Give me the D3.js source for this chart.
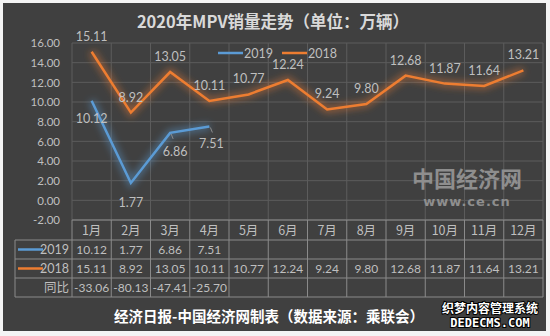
<!DOCTYPE html>
<html><head><meta charset="utf-8">
<script src="https://cdn.jsdelivr.net/npm/d3@7"></script>
<style>
html,body{margin:0;padding:0;background:#fff;}
svg{display:block;}
</style></head>
<body>
<svg id="c" width="550" height="336"></svg>
<script>
const months = ['1月','2月','3月','4月','5月','6月','7月','8月','9月','10月','11月','12月'];
const v2019 = [10.12, 1.77, 6.86, 7.51];
const v2018 = [15.11, 8.92, 13.05, 10.11, 10.77, 12.24, 9.24, 9.80, 12.68, 11.87, 11.64, 13.21];
const yoy = [-33.06, -80.13, -47.41, -25.70];
const yTicks = [-2, 0, 2, 4, 6, 8, 10, 12, 14, 16];
const seriesNames = ['2019', '2018'];
const yoyName = '同比';
const titleText = '2020年MPV销量走势（单位：万辆）';
const footerText = '经济日报-中国经济网制表（数据来源：乘联会）';

const BLUE = '#5b9bd5', ORANGE = '#ed7d31';
const svg = d3.select('#c');
const NUMF = "Lato, 'Noto Sans', sans-serif";
const CJK = "'Noto Sans CJK SC', sans-serif";

// outer background
svg.append('rect').attr('x',0).attr('y',0).attr('width',550).attr('height',336).attr('fill','#f4f4f4');
svg.append('rect').attr('x',3).attr('y',3).attr('width',543).attr('height',328).attr('fill','#404040');

const defs = svg.append('defs');
const f = defs.append('filter').attr('id','glow').attr('x','-20%').attr('y','-20%').attr('width','140%').attr('height','140%');
f.append('feGaussianBlur').attr('stdDeviation',3.5);

const x = d3.scaleBand().domain(months).range([72, 543]);
const y = d3.scaleLinear().domain([-2, 16]).range([220, 43]);
const cx = m => x(m) + x.bandwidth()/2;

// gridlines
const grid = svg.append('g');
yTicks.forEach(t => {
  grid.append('line').attr('x1',72).attr('x2',543).attr('y1',y(t)).attr('y2',y(t))
    .attr('stroke', '#5c5c5c').attr('stroke-width',1);
});
months.forEach((m,i) => {
  grid.append('line').attr('x1',x(m)).attr('x2',x(m)).attr('y1',y(16)).attr('y2',y(-2))
    .attr('stroke','#5c5c5c');
});
grid.append('line').attr('x1',543).attr('x2',543).attr('y1',y(16)).attr('y2',y(-2)).attr('stroke','#5c5c5c');

// y axis
const ax = svg.append('g').attr('transform','translate(66,0)')
  .call(d3.axisLeft(y).tickValues(yTicks).tickFormat(d => d.toFixed(2)).tickSize(0).tickPadding(6));
ax.select('.domain').remove();
ax.selectAll('text').attr('fill','#bfbfbf').attr('font-family',NUMF).attr('font-size',11.5);

// lines
const line = d3.line().x((d,i) => cx(months[i])).y(d => y(d));
function drawSeries(vals, color){
  svg.append('path').datum(vals).attr('d',line).attr('fill','none').attr('stroke',color)
    .attr('stroke-width',7).attr('stroke-opacity',0.45).attr('filter','url(#glow)');
  svg.append('path').datum(vals).attr('d',line).attr('fill','none').attr('stroke',color)
    .attr('stroke-width',2.5).attr('stroke-linejoin','miter');
}
drawSeries(v2018, ORANGE);
drawSeries(v2019, BLUE);

// data labels
svg.append('g').selectAll('text').data(v2018).join('text')
  .attr('x',(d,i)=>cx(months[i])).attr('y',d=>y(d)-11)
  .attr('text-anchor','middle').attr('fill','#bfbfbf').attr('font-family',NUMF).attr('font-size',12.5)
  .text(d=>d.toFixed(2));
const offs2019 = [[0,22],[0,24],[5,23],[2,22]];
// leader lines
[2,3].forEach(i => {
  svg.append('line').attr('x1',cx(months[i])+1).attr('y1',y(v2019[i])+1)
    .attr('x2',cx(months[i])+3).attr('y2',y(v2019[i])+6).attr('stroke','#8c8c8c').attr('stroke-width',1);
});
svg.append('g').selectAll('text').data(v2019).join('text')
  .attr('x',(d,i)=>cx(months[i])+offs2019[i][0]).attr('y',(d,i)=>y(d)+offs2019[i][1])
  .attr('text-anchor','middle').attr('fill','#bfbfbf').attr('font-family',NUMF).attr('font-size',12.5)
  .text(d=>d.toFixed(2));

// legend
const leg = svg.append('g');
[[218, BLUE, seriesNames[0]],[282, ORANGE, seriesNames[1]]].forEach(([lx,c,t]) => {
  leg.append('line').attr('x1',lx).attr('x2',lx+25).attr('y1',53).attr('y2',53).attr('stroke',c).attr('stroke-width',2.5);
  leg.append('text').attr('x',lx+26).attr('y',57.5).attr('fill','#bfbfbf').attr('font-family',NUMF).attr('font-size',12.5).text(t);
});

// data table
const tb = svg.append('g');
const TC = '#8a8a8a';
[240, 259, 278, 297].forEach(ry => {
  tb.append('line').attr('x1',15).attr('x2',543).attr('y1',ry).attr('y2',ry).attr('stroke',TC);
});
tb.append('line').attr('x1',72).attr('x2',543).attr('y1',220).attr('y2',220).attr('stroke',TC);
tb.append('line').attr('x1',15).attr('x2',15).attr('y1',240).attr('y2',297).attr('stroke',TC);
months.forEach(m => {
  tb.append('line').attr('x1',x(m)).attr('x2',x(m)).attr('y1',220).attr('y2',297).attr('stroke',TC);
});
tb.append('line').attr('x1',543).attr('x2',543).attr('y1',220).attr('y2',297).attr('stroke',TC);

const txt = (xx, yy, t, anchor, fam, fs) => tb.append('text').attr('x',xx).attr('y',yy)
  .attr('text-anchor',anchor||'middle').attr('fill','#bfbfbf').attr('font-family',fam||NUMF).attr('font-size',fs||12).text(t);
months.forEach(m => txt(cx(m), 234.5, m, 'middle', CJK, 12.5));
// row headers
tb.append('line').attr('x1',18).attr('x2',43).attr('y1',249.5).attr('y2',249.5).attr('stroke',BLUE).attr('stroke-width',2.5);
tb.append('line').attr('x1',18).attr('x2',43).attr('y1',268.5).attr('y2',268.5).attr('stroke',ORANGE).attr('stroke-width',2.5);
txt(69, 254, seriesNames[0], 'end', NUMF, 12.5);
txt(69, 273, seriesNames[1], 'end', NUMF, 12.5);
txt(69, 292, yoyName, 'end', CJK, 12.5);
v2019.forEach((v,i) => txt(cx(months[i]), 254, v.toFixed(2)));
v2018.forEach((v,i) => txt(cx(months[i]), 273, v.toFixed(2)));
yoy.forEach((v,i) => txt(cx(months[i]), 292, v.toFixed(2)));

// title & footer
svg.append('text').attr('x',273).attr('y',28).attr('text-anchor','middle').attr('fill','#d9d9d9')
  .attr('font-family',CJK).attr('font-weight','bold').attr('font-size',16.5).text(titleText);
svg.append('text').attr('x',269).attr('y',322).attr('text-anchor','middle').attr('fill','#ffffff')
  .attr('font-family',CJK).attr('font-weight','bold').attr('font-size',14.5).text(footerText);

// watermarks
svg.append('text').attr('x',467).attr('y',187).attr('text-anchor','middle').attr('fill','#8e8e8e')
  .attr('font-family',CJK).attr('font-weight','bold').attr('font-size',22).text('中国经济网');
svg.append('text').attr('x',467).attr('y',206).attr('text-anchor','middle').attr('fill','#8e8e8e')
  .attr('font-family',"'DejaVu Sans', sans-serif").attr('font-weight','bold').attr('font-size',13).attr('letter-spacing',1).text('www.ce.cn');
svg.append('text').attr('x',490).attr('y',313).attr('text-anchor','middle').attr('fill','#ffffff')
  .attr('stroke','#000').attr('stroke-width',2).attr('paint-order','stroke')
  .attr('font-family',CJK).attr('font-weight','bold').attr('font-size',12).text('织梦内容管理系统');
svg.append('text').attr('x',490).attr('y',327).attr('text-anchor','middle').attr('fill','#ffffff')
  .attr('stroke','#000').attr('stroke-width',2).attr('paint-order','stroke')
  .attr('font-family',"'DejaVu Sans Mono', monospace").attr('font-weight','bold').attr('font-size',12).text('DEDECMS.COM');
</script>
</body></html>
